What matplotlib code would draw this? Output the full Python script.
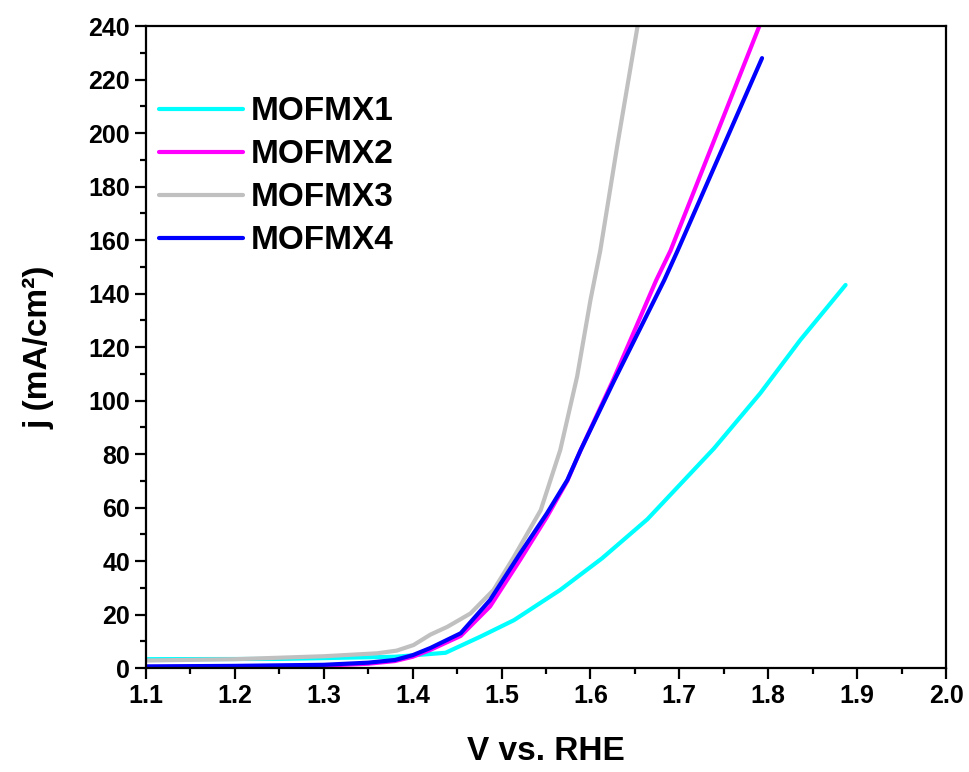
import matplotlib.pyplot as plt
from matplotlib.ticker import MultipleLocator

plt.rcParams['font.family'] = ['Liberation Sans', 'DejaVu Sans']
plt.rcParams['font.weight'] = 'bold'

# LSV curves (V vs RHE, mA/cm2)
v1 = [1.10, 1.25, 1.38, 1.437, 1.476, 1.514, 1.566, 1.613, 1.664, 1.709, 1.739, 1.791, 1.836, 1.887]
j1 = [3.3, 3.4, 4.2, 5.7, 11.7, 17.9, 29.2, 41.0, 55.6, 71.5, 82.1, 102.7, 122.6, 143.2]

v2 = [1.10, 1.20, 1.30, 1.35, 1.38, 1.40, 1.42, 1.454, 1.487, 1.521, 1.551, 1.574, 1.589, 1.626, 1.674, 1.690, 1.790]
j2 = [0.4, 0.5, 0.9, 1.6, 2.6, 4.2, 6.8, 12.0, 23.0, 40.5, 56.5, 70.0, 81.5, 108.0, 145.0, 156.0, 240.0]

v3 = [1.10, 1.20, 1.30, 1.36, 1.382, 1.401, 1.42, 1.439, 1.465, 1.491, 1.514, 1.544, 1.566, 1.585, 1.600, 1.611, 1.630, 1.653]
j3 = [2.8, 3.3, 4.4, 5.5, 6.5, 8.6, 12.5, 15.4, 20.4, 29.2, 41.6, 59.0, 81.5, 109.0, 137.6, 156.0, 195.0, 240.0]

v4 = [1.10, 1.20, 1.30, 1.35, 1.38, 1.40, 1.42, 1.454, 1.487, 1.521, 1.551, 1.574, 1.589, 1.626, 1.683, 1.698, 1.793]
j4 = [0.6, 0.8, 1.2, 2.0, 3.0, 4.8, 7.5, 13.0, 25.4, 42.9, 57.8, 70.3, 81.5, 107.0, 145.0, 156.0, 228.0]

labels = ['MOFMX1', 'MOFMX2', 'MOFMX3', 'MOFMX4']
colors = ['#00ffff', '#ff00ff', '#c0c0c0', '#0000ff']

fig = plt.figure(figsize=(9.69, 7.72), dpi=100)
ax = fig.add_axes([0.1507, 0.1347, 0.8256, 0.8316])

for v, j, lab, c in zip([v1, v2, v3, v4], [j1, j2, j3, j4], labels, colors):
    ax.plot(v, j, color=c, lw=3, label=lab, solid_capstyle='round')

ax.set_xlim(1.1, 2.0)
ax.set_ylim(0, 240)
ax.xaxis.set_major_locator(MultipleLocator(0.1))
ax.xaxis.set_minor_locator(MultipleLocator(0.05))
ax.yaxis.set_major_locator(MultipleLocator(20))
ax.yaxis.set_minor_locator(MultipleLocator(10))
ax.tick_params(which='major', direction='out', length=8, width=1.6, labelsize=18)
ax.tick_params(which='minor', direction='out', length=4, width=1.6)
for s in ax.spines.values():
    s.set_linewidth(1.6)

ax.set_xlabel('V vs. RHE', fontsize=24, fontweight='bold', labelpad=20)
ax.set_ylabel('j (mA/cm²)', fontsize=24, fontweight='bold', labelpad=24)

leg = ax.legend(loc='upper left', frameon=False, fontsize=24, handlelength=2.5,
                handletextpad=0.25, labelspacing=0.36, bbox_to_anchor=(0.0, 0.911),
                borderaxespad=0.0, borderpad=0.4)
for t in leg.get_texts():
    t.set_fontweight('bold')

fig.savefig('out.png', dpi=100)
